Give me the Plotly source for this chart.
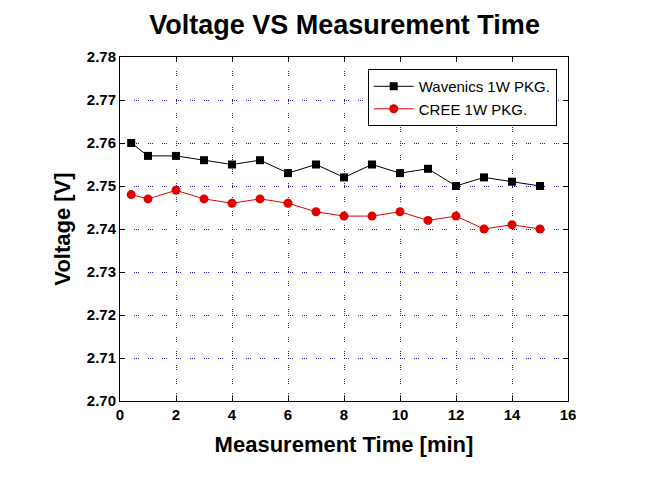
import plotly.graph_objects as go

time_min = [0.4, 1, 2, 3, 4, 5, 6, 7, 8, 9, 10, 11, 12, 13, 14, 15]
wavenics = [2.760, 2.757, 2.757, 2.756, 2.755, 2.756, 2.753, 2.755, 2.752, 2.755,
            2.753, 2.754, 2.750, 2.752, 2.751, 2.750]
cree = [2.748, 2.747, 2.749, 2.747, 2.746, 2.747, 2.746, 2.744, 2.743, 2.743,
        2.744, 2.742, 2.743, 2.740, 2.741, 2.740]
x_ticks = [0, 2, 4, 6, 8, 10, 12, 14, 16]
y_ticks = [2.70, 2.71, 2.72, 2.73, 2.74, 2.75, 2.76, 2.77, 2.78]

fig = go.Figure()
fig.add_trace(go.Scatter(x=time_min, y=wavenics, mode="lines+markers",
                         name="Wavenics 1W PKG.",
                         line=dict(color="black", width=1),
                         marker=dict(symbol="square", size=8, color="black")))
fig.add_trace(go.Scatter(x=time_min, y=cree, mode="lines+markers",
                         name="CREE 1W PKG.",
                         line=dict(color="#e00000", width=1),
                         marker=dict(symbol="circle", size=9, color="#e00000")))

axis_common = dict(showline=True, linecolor="black", linewidth=1, mirror="ticks",
                   ticks="inside", ticklen=5, tickcolor="black",
                   showgrid=True, gridcolor="#1a1ab0",
                   griddash="1px,1px,1px,1px,1px,9px", gridwidth=1,
                   zeroline=False, automargin=False,
                   tickfont=dict(family="Liberation Sans", size=15, color="black", weight="bold"))

fig.update_layout(
    width=660, height=474,
    paper_bgcolor="white", plot_bgcolor="white",
    margin=dict(l=112, r=100, t=49, b=81),
    title=dict(text="<b>Voltage VS Measurement Time</b>", x=0.51, xanchor="center",
               y=0.965, yanchor="middle",
               font=dict(family="Liberation Sans", size=27, color="black")),
    xaxis=dict(range=[0, 16], tickvals=x_ticks, ticktext=[str(v) for v in x_ticks],
               title=dict(text="<b>Measurement Time [min]</b>", standoff=14,
                          font=dict(family="Liberation Sans", size=22, color="black")),
               **axis_common),
    yaxis=dict(range=[2.70, 2.78], tickvals=y_ticks, ticktext=[f"{v:.2f}" for v in y_ticks],
               title=dict(text="<b>Voltage [V]</b>", standoff=10,
                          font=dict(family="Liberation Sans", size=22, color="black")),
               **axis_common),
    legend=dict(x=0.553, y=0.965, xanchor="left", yanchor="top",
                bgcolor="white", bordercolor="black", borderwidth=1,
                font=dict(family="Liberation Sans", size=15, color="black"),
                tracegroupgap=0, itemwidth=40),
    showlegend=True,
)

fig.write_html("out.html")
